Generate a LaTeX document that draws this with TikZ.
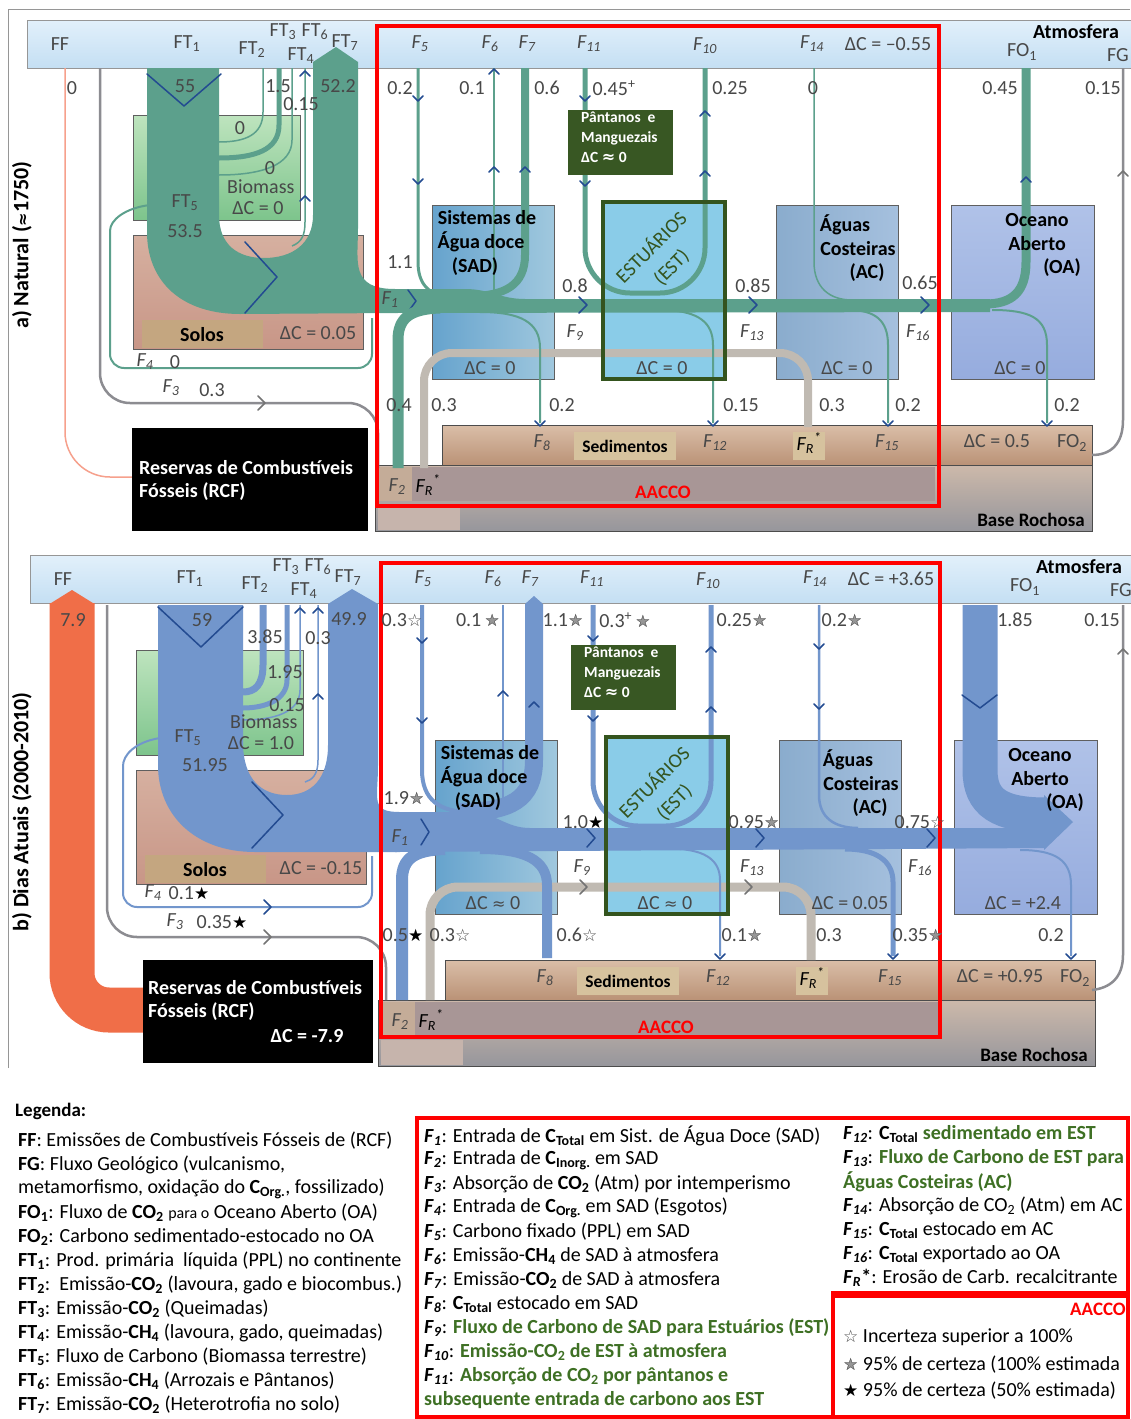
\documentclass[tikz,border=0pt]{standalone}
\usepackage{fontspec}
\setmainfont{Carlito}
\newfontfamily\symfont{DejaVu Sans}
\usetikzlibrary{fit}
\pgfdeclarelayer{bg}
\pgfdeclarelayer{fg}
\pgfsetlayers{bg,main,fg}

\definecolor{txt}{RGB}{72,72,72}
\definecolor{framegray}{RGB}{150,150,150}
\definecolor{boxline}{RGB}{95,95,95}
\definecolor{atmtop}{RGB}{226,240,251}
\definecolor{atmbot}{RGB}{196,223,243}
\definecolor{biotop}{RGB}{190,228,190}
\definecolor{biobot}{RGB}{125,196,140}
\definecolor{soiltop}{RGB}{214,176,160}
\definecolor{soilbot}{RGB}{200,150,135}
\definecolor{solotab}{RGB}{196,166,128}
\definecolor{sadleft}{RGB}{102,163,205}
\definecolor{sadright}{RGB}{160,200,222}
\definecolor{estfill}{RGB}{138,204,232}
\definecolor{estgreen}{RGB}{52,84,30}
\definecolor{acleft}{RGB}{138,172,205}
\definecolor{acright}{RGB}{165,192,222}
\definecolor{oatop}{RGB}{176,194,232}
\definecolor{oabot}{RGB}{150,172,222}
\definecolor{pntgreen}{RGB}{56,87,35}
\definecolor{sedtop}{RGB}{218,190,168}
\definecolor{sedbot}{RGB}{186,146,118}
\definecolor{sedtabc}{RGB}{214,194,158}
\definecolor{rocktop}{RGB}{205,185,170}
\definecolor{rockbot}{RGB}{150,150,156}
\definecolor{aacfill}{RGB}{168,150,150}
\definecolor{f2fill}{RGB}{196,172,152}
\definecolor{rockpink}{RGB}{198,180,172}
\definecolor{flowA}{RGB}{92,160,140}
\definecolor{flowB}{RGB}{114,150,204}
\definecolor{ffor}{RGB}{240,110,72}
\definecolor{ffsalmon}{RGB}{246,160,140}
\definecolor{loopgray}{RGB}{192,186,178}
\definecolor{linegray}{RGB}{140,140,145}
\definecolor{chevblue}{RGB}{35,75,145}
\definecolor{stargray}{RGB}{150,150,150}
\definecolor{aaccored}{RGB}{255,0,0}
\definecolor{leggreen}{RGB}{62,112,36}

\newcommand\apx{{\symfont\fontsize{16}{16}\selectfont ≈}}
\newcommand\starW{{\symfont\fontsize{17}{17}\selectfont\textcolor{txt}{☆}}}
\newcommand\starB{{\symfont\fontsize{17}{17}\selectfont\textcolor{black}{★}}}
\newcommand\starG{{\symfont\fontsize{17}{17}\selectfont\rlap{\textcolor{stargray}{★}}\textcolor{txt}{☆}}}
\newcommand\Fl[1]{\textbf{\textit{F}\textsubscript{\textit{#1}}}}

\tikzset{
  every node/.append style={inner sep=0pt},
  lbl/.style={font=\fontsize{20}{22}\selectfont, text=txt},
  flb/.style={font=\fontsize{20}{22}\selectfont\itshape, text=txt},
  boxt/.style={font=\fontsize{20}{22}\selectfont\bfseries, text=black},
  sml/.style={font=\fontsize{17.5}{20}\selectfont\bfseries, text=black},
  rcft/.style={font=\fontsize{20}{22}\selectfont\bfseries, text=white},
  boxarea/.style={draw=boxline, line width=1pt},
  chev/.style={draw=chevblue, line width=1.5pt, line cap=round, line join=round},
  gchev/.style={draw=black!55, line width=1.5pt, line cap=round, line join=round},
  athin/.style={draw=flowA, line width=2pt},
  bthin/.style={draw=flowB, line width=2pt},
  gline/.style={draw=linegray, line width=2.5pt},
  frloop/.style={draw=loopgray, line width=8pt},
  redframe/.style={draw=aaccored, line width=4pt},
  legt/.style={font=\fontsize{20}{22}\selectfont, text=black, anchor=west},
  esttxt/.style={font=\fontsize{20}{28}\selectfont, text=estgreen, rotate=45, align=center},
}

\newcommand\vcar[2]{\draw[chev] (#1-5,#2-4) -- (#1,#2+1) -- (#1+5,#2-4);}
\newcommand\ucar[2]{\draw[chev] (#1-5,#2+4) -- (#1,#2-1) -- (#1+5,#2+4);}
\newcommand\rchev[3]{\draw[chev] (#1-4,#2-#3) -- (#1+4,#2) -- (#1-4,#2+#3);}

% Compartments, reservoirs and their fixed captions of one panel.
% #1 biomass, #2 soils, #3 SAD, #4 EST, #5 AC, #6 OA, #7 sediments, #8 atmosphere
\newcommand\panelbase[8]{%
\begin{pgfonlayer}{bg}
  \node[boxarea, draw=framegray, top color=atmtop, bottom color=atmbot, fit={(27,20)(1132,68)}] (atm) {};
  \node[boxarea, top color=biotop, bottom color=biobot, fit={(133,115)(300,220)}] (bio) {};
  \node[boxarea, top color=soiltop, bottom color=soilbot, fit={(133,235)(363,349)}] (soil) {};
  \node[fill=solotab, fit={(142,320)(263,348)}] (solotab) {};
  \node[boxarea, left color=sadleft, right color=sadright, fit={(432,205)(554,379)}] (sad) {};
  \node[fill=estfill, fit={(601,200)(727,381)}] (est) {};
  \node[boxarea, left color=acleft, right color=acright, fit={(776,205)(898,379)}] (ac) {};
  \node[boxarea, top color=oatop, bottom color=oabot, fit={(951,205)(1094,379)}] (oa) {};
  \node[boxarea, draw=black!70, top color=sedtop, bottom color=sedbot, fit={(442,425)(1092,465)}] (sed) {};
  \node[boxarea, draw=black!70, top color=rocktop, bottom color=rockbot, fit={(375,465)(1092,531)}] (rock) {};
  \node[fill=aacfill, fit={(378,467)(935,501)}] (aac) {};
  \node[fill=f2fill, fit={(378,467)(412,501)}] (f2zone) {};
  \node[fill=rockpink, fit={(378,505)(460,530)}] (rockpatch) {};
  \node[fill=sedtabc, fit={(574,432)(676,460)}] (sedtab) {};
  \node[fill=sedtabc, fit={(793,432)(825,460)}] (frtab) {};
\end{pgfonlayer}
\begin{pgfonlayer}{fg}
  \node[draw=estgreen, line width=4pt, fit={(603,202)(725,379)}] (estframe) {};
  \node[fill=pntgreen, fit={(568,110)(673,175)}] (pnt) {};
  \node[font=\fontsize{15.5}{20}\selectfont\bfseries, text=white, align=left, anchor=north west] (pnttxt) at (581,112) {Pântanos\ \ e\\Manguezais\\ΔC \apx\ 0};
  % atmosphere bar
  \node[lbl] (tFF) at (60,44) {FF};
  \node[lbl] (tFT1) at (187,44) {FT\textsubscript{1}};
  \node[lbl] (tFT2) at (252,50) {FT\textsubscript{2}};
  \node[lbl] (tFT3) at (283,32) {FT\textsubscript{3}};
  \node[lbl] (tFT6) at (315,32) {FT\textsubscript{6}};
  \node[lbl] (tFT7) at (345,43) {FT\textsubscript{7}};
  \node[lbl] (tFT4) at (301,56) {FT\textsubscript{4}};
  \node[flb] (tF5) at (420,44) {F\textsubscript{5}};
  \node[flb] (tF6) at (490,44) {F\textsubscript{6}};
  \node[flb] (tF7) at (527,44) {F\textsubscript{7}};
  \node[flb] (tF11) at (589,44) {F\textsubscript{11}};
  \node[flb] (tF10) at (705,46) {F\textsubscript{10}};
  \node[flb] (tF14) at (812,44) {F\textsubscript{14}};
  \node[lbl] (tdCatm) at (888,44) {ΔC #8};
  \node[boxt] (tAtm) at (1076,32) {Atmosfera};
  \node[lbl] (tFO1) at (1022,52) {FO\textsubscript{1}};
  \node[lbl] (tFG) at (1118,55) {FG};
  % compartments
  \node[boxt] (tsad1) at (487,218) {Sistemas de};
  \node[boxt] (tsad2) at (481,242) {Água doce};
  \node[boxt] (tsad3) at (475,267) {(SAD)};
  \node[lbl] (tsadc) at (490,368) {ΔC #3};
  \node[esttxt] (test) at (661,257) {ESTUÁRIOS\\(EST)};
  \node[lbl] (testc) at (662,368) {ΔC #4};
  \node[boxt] (tac1) at (845,225) {Águas};
  \node[boxt] (tac2) at (858,249) {Costeiras};
  \node[boxt] (tac3) at (867,273) {(AC)};
  \node[lbl] (tacc) at (847,368) {ΔC #5};
  \node[boxt] (toa1) at (1037,220) {Oceano};
  \node[boxt] (toa2) at (1037,244) {Aberto};
  \node[boxt] (toa3) at (1062,268) {(OA)};
  \node[lbl] (toac) at (1020,368) {ΔC #6};
  \node[lbl, anchor=west] (tbio1) at (227,187) {Biomass};
  \node[lbl] (tbio2) at (258,208) {ΔC #1};
  \node[lbl] (tft5) at (185,203) {FT\textsubscript{5}};
  \node[boxt] (tsolos) at (202,335) {Solos};
  \node[lbl] (tsoilc) at (318,333) {ΔC #2};
  % sediments and bedrock
  \node[sml] (tsed) at (625,446) {Sedimentos};
  \node[flb] (tF8) at (542,443) {F\textsubscript{8}};
  \node[flb] (tF12) at (715,443) {F\textsubscript{12}};
  \node[flb, text=black] (tFR) at (809,443) {F\textsubscript{R}\textsuperscript{*}};
  \node[flb] (tF15) at (887,443) {F\textsubscript{15}};
  \node[lbl] (tsedc) at (997,441) {ΔC #7};
  \node[lbl] (tFO2) at (1072,443) {FO\textsubscript{2}};
  \node[flb] (tF2) at (397,487) {F\textsubscript{2}};
  \node[flb, text=black] (tFRb) at (428,485) {F\textsubscript{R}\textsuperscript{*}};
  \node[font=\fontsize{19}{22}\selectfont\bfseries, text=aaccored] (taacco) at (663,492) {AACCO};
  \node[font=\fontsize{19}{22}\selectfont\bfseries, text=black] (tbase) at (1031,520) {Base Rochosa};
\end{pgfonlayer}}

\begin{document}
\begin{tikzpicture}[x=1pt,y=-1pt]
\useasboundingbox (0,0) rectangle (1130,1419);
\begin{pgfonlayer}{bg}
  \fill[white] (0,0) rectangle (1130,1419);
  \draw[framegray, line width=1pt] (8,1068) -- (8,9) -- (1130,9);
\end{pgfonlayer}

% side titles
\node[font=\fontsize{22}{24}\selectfont\bfseries, rotate=90] (sidea) at (22,245) {a) Natural (\apx1750)};
\node[font=\fontsize{22}{24}\selectfont\bfseries, rotate=90] (sideb) at (22,812) {b) Dias Atuais (2000-2010)};

%================ panel a : natural state ================
\begin{scope}[name prefix=a-]
\panelbase{= 0}{= 0.05}{= 0}{= 0}{= 0}{= 0}{= 0.5}{= –0.55}
\end{scope}

% fossil fuel line and weathering line
\draw[ffsalmon, line width=1.5pt, rounded corners=45pt] (65,68) -- (65,477) -- (132,477);
\draw[gline, rounded corners=30pt] (100,68) -- (100,403) -- (378,403) -- (378,468);
\draw[gchev] (258,396) -- (265,403) -- (258,410);
% sewage input F4
\draw[athin, rounded corners=14pt] (150,205) .. controls (125,208) and (110,220) .. (110,245) -- (110,368) -- (372,368) -- (372,318);
% terrestrial production / respiration loop
\fill[flowA] (147,68) -- (219,68) -- (219,215)
  .. controls (219,245) and (238,258) .. (264,258)
  .. controls (292,258) and (313,244) .. (313,215)
  -- (313,62) -- (336,47) -- (358,62) -- (358,228)
  .. controls (358,262) and (350,289) .. (395,289)
  -- (395,313) -- (240,314)
  .. controls (182,314) and (147,282) .. (147,232) -- cycle;
\draw[chev] (147,74) -- (184,106) -- (221,74);
\draw[chev] (245,242) -- (277,277) -- (245,313);
% biomass arcs
\draw[athin, line width=1.5pt] (263,68) -- (263,112) .. controls (263,135) and (245,142) .. (219,142);
\draw[flowA, line width=5pt] (279,68) -- (279,125) .. controls (279,150) and (255,158) .. (219,158);
\draw[athin, line width=1.5pt] (292,68) -- (292,140) .. controls (292,165) and (262,175) .. (219,175);
\draw[athin, line width=1.5pt] (292,246) .. controls (302,242) and (305,235) .. (305,222) -- (305,68);
\ucar{305}{72} \ucar{305}{197}
% aquatic continuum band
\fill[flowA] (395,289) -- (465,289) .. controls (490,289) and (500,299) .. (525,299) -- (990,299) -- (990,312) -- (395,313) -- cycle;
\draw[flowA, line width=9pt] (1026,68) -- (1026,262) .. controls (1026,292) and (1012,304) .. (985,304);
\ucar{1026}{178}
\rchev{412}{301}{11} \rchev{583}{305}{8} \rchev{753}{305}{8} \rchev{925}{305}{8}
% SAD exchanges
\draw[flowA, line width=3pt] (418,68) -- (418,262) .. controls (418,285) and (430,296) .. (450,296);
\draw[flowA, line width=8pt] (470,296) .. controls (505,296) and (525,285) .. (525,255) -- (525,68);
\draw[athin, line width=1.5pt] (494,68) -- (494,296);
\vcar{418}{100} \vcar{418}{183} \ucar{494}{70} \ucar{494}{168} \ucar{525}{168}
\draw[flowA, line width=11pt] (398,468) -- (398,340) .. controls (398,318) and (410,309) .. (440,308);
\draw[frloop, rounded corners=28pt] (424,468) -- (424,353) -- (808,353) -- (808,427);
\draw[athin] (480,312) .. controls (520,312) and (540,322) .. (540,348) -- (540,423);
% EST exchanges
\draw[flowA, line width=5pt, rounded corners=45pt] (585,68) -- (585,293) -- (705,293) -- (705,68);
\vcar{585}{100} \vcar{585}{185} \ucar{705}{112} \ucar{705}{172}
\draw[athin] (668,310) .. controls (698,312) and (713,322) .. (713,345) -- (713,423);
% AC and OA exchanges
\draw[athin, line width=1.5pt] (814,68) -- (814,262) .. controls (814,288) and (830,300) .. (852,300);
\draw[athin] (848,310) .. controls (875,310) and (888,320) .. (888,345) -- (888,423);
\draw[athin] (992,310) .. controls (1030,310) and (1047,318) .. (1047,345) -- (1047,423);
\vcar{540}{425} \vcar{713}{425} \vcar{888}{425} \vcar{1047}{425}
\draw[gline] (1123,68) -- (1123,420) .. controls (1123,445) and (1110,455) .. (1092,455);
\draw[gchev] (1118,176) -- (1123,171) -- (1128,176);

\begin{pgfonlayer}{fg}
  \node[fill=black, fit={(132,428)(368,531)}] (rcfa) {};
  \node[rcft, anchor=west] (rcfa1) at (139,468) {Reservas de Combustíveis};
  \node[rcft, anchor=west] (rcfa2) at (139,492) {Fósseis (RCF)};
  \draw[redframe] (377,26) rectangle (939,506);
  \node[lbl] (a-n1) at (72,88) {0};
  \node[lbl] (a-n2) at (185,86) {55};
  \node[lbl] (a-n3) at (278,86) {1.5};
  \node[lbl] (a-n4) at (301,104) {0.15};
  \node[lbl] (a-n5) at (338,86) {52.2};
  \node[lbl] (a-n6) at (400,88) {0.2};
  \node[lbl] (a-n7) at (472,88) {0.1};
  \node[lbl] (a-n8) at (547,88) {0.6};
  \node[lbl] (a-n9) at (614,88) {0.45\textsuperscript{+}};
  \node[lbl] (a-n10) at (730,88) {0.25};
  \node[lbl] (a-n11) at (813,88) {0};
  \node[lbl] (a-n12) at (1000,88) {0.45};
  \node[lbl] (a-n13) at (1103,88) {0.15};
  \node[lbl] (a-n14) at (240,128) {0};
  \node[lbl] (a-n15) at (270,168) {0};
  \node[lbl] (a-n16) at (185,231) {53.5};
  \node[lbl] (a-n17) at (400,262) {1.1};
  \node[flb] (a-f1) at (390,300) {F\textsubscript{1}};
  \node[lbl] (a-n18) at (575,286) {0.8};
  \node[flb] (a-f9) at (575,333) {F\textsubscript{9}};
  \node[lbl] (a-n19) at (753,286) {0.85};
  \node[flb] (a-f13) at (752,333) {F\textsubscript{13}};
  \node[lbl] (a-n20) at (920,283) {0.65};
  \node[flb] (a-f16) at (918,333) {F\textsubscript{16}};
  \node[lbl] (a-n21) at (399,405) {0.4};
  \node[lbl] (a-n22) at (444,405) {0.3};
  \node[lbl] (a-n23) at (562,405) {0.2};
  \node[lbl] (a-n24) at (741,405) {0.15};
  \node[lbl] (a-n25) at (832,405) {0.3};
  \node[lbl] (a-n26) at (908,405) {0.2};
  \node[lbl] (a-n27) at (1067,405) {0.2};
  \node[flb] (a-f4) at (145,362) {F\textsubscript{4}};
  \node[lbl] (a-n28) at (175,362) {0};
  \node[flb] (a-f3) at (171,388) {F\textsubscript{3}};
  \node[lbl] (a-n29) at (212,390) {0.3};
\end{pgfonlayer}

%================ panel b : present day ================
\begin{scope}[name prefix=b-, shift={(3,535)}]
\panelbase{= 1.0}{= -0.15}{\apx\ 0}{\apx\ 0}{= 0.05}{= +2.4}{= +0.95}{= +3.65}
\end{scope}

% fossil fuel emissions
\draw[ffor, line width=45pt, rounded corners=37pt] (72,603) -- (72,1010) -- (143,1010);
\fill[ffor] (49.5,604) -- (72,590) -- (94.5,604) -- cycle;
\draw[gline, rounded corners=30pt] (107,605) -- (107,937) -- (386,937) -- (386,1000);
\draw[gchev] (264,930) -- (271,937) -- (264,944);
\draw[bthin, rounded corners=14pt] (160,738) .. controls (135,742) and (123,755) .. (123,780) -- (123,907) -- (372,907) -- (372,856);
\draw[chev] (264,900) -- (271,907) -- (264,914);
% terrestrial loop
\fill[flowB] (158,605) -- (243,605) -- (243,742)
  .. controls (243,780) and (262,795) .. (287,795)
  .. controls (312,795) and (328,778) .. (328,745)
  -- (328,604) -- (352,589) -- (378,604) -- (378,765)
  .. controls (378,800) and (370,812) .. (400,812)
  -- (400,852) -- (255,852)
  .. controls (195,852) and (158,815) .. (158,765) -- cycle;
\draw[chev] (158,607) -- (201,647) -- (243,607);
\draw[chev] (252,782) -- (283,815) -- (252,848);
\draw[flowB, line width=7pt] (263,605) -- (263,665) .. controls (263,685) and (255,692) .. (243,692);
\draw[flowB, line width=5pt] (287,605) -- (287,680) .. controls (287,700) and (265,708) .. (243,708);
\draw[bthin, line width=1.5pt] (300,605) -- (300,690) .. controls (300,712) and (275,720) .. (243,720);
\draw[bthin, line width=1.5pt] (318,605) -- (318,760) .. controls (318,775) and (312,780) .. (305,782);
\ucar{300}{609} \ucar{318}{609} \ucar{318}{695}
% aquatic continuum band
\fill[flowB] (395,812) -- (470,812) .. controls (495,812) and (505,828) .. (530,828) -- (1046,828) -- (1046,848) -- (395,852) -- cycle;
\draw[flowB, line width=35pt] (980,605) -- (980,770) .. controls (980,803) and (1000,815) .. (1046,815);
\fill[flowB] (1044,795) -- (1073,822) -- (1044,850) -- cycle;
\draw[chev] (962,695) -- (980,708) -- (997,695);
\rchev{425}{832}{13} \rchev{591}{838}{9} \rchev{760}{838}{9} \rchev{931}{838}{9}
% SAD exchanges
\draw[flowB, line width=4pt] (422,605) -- (422,770) .. controls (422,800) and (440,812) .. (470,812);
\draw[flowB, line width=18pt] (460,812) .. controls (510,812) and (534,800) .. (534,760) -- (534,604);
\fill[flowB] (525,604) -- (534,596) -- (543,604) -- cycle;
\draw[bthin, line width=1.5pt] (503,605) -- (503,812);
\vcar{422}{642} \vcar{422}{722} \ucar{503}{692} \ucar{534}{703}
\draw[flowB, line width=12pt] (402,1000) -- (402,880) .. controls (402,858) and (415,850) .. (445,849);
\draw[frloop, line width=9pt, rounded corners=28pt] (430,1000) -- (430,887) -- (811,887) -- (811,960);
\draw[gchev] (580,880) -- (587,887) -- (580,894);
\draw[gchev] (745,880) -- (752,887) -- (745,894);
\draw[flowB, line width=10pt] (480,849) .. controls (525,849) and (547,860) .. (547,885) -- (547,958);
% EST exchanges
\draw[flowB, line width=5pt, rounded corners=45pt] (593,605) -- (593,826) -- (711,826) -- (711,605);
\vcar{593}{640} \vcar{593}{720} \ucar{711}{648} \ucar{711}{708}
\draw[bthin] (680,849) .. controls (705,851) and (720,860) .. (720,880) -- (720,956);
% AC and OA exchanges
\draw[bthin, line width=2.5pt] (819,605) -- (819,795) .. controls (819,818) and (835,828) .. (858,828);
\vcar{819}{648} \vcar{819}{708}
\draw[flowB, line width=5pt] (845,849) .. controls (875,849) and (893,860) .. (893,882) -- (893,956);
\draw[bthin] (1020,850) .. controls (1055,850) and (1071,860) .. (1071,885) -- (1071,956);
\vcar{720}{958} \vcar{893}{958} \vcar{1071}{958}
\draw[gline] (1123,605) -- (1123,955) .. controls (1123,978) and (1110,988) .. (1092,990);
\draw[gchev] (1118,654) -- (1123,649) -- (1128,654);

\begin{pgfonlayer}{fg}
  \node[fill=black, fit={(143,960)(373,1063)}] (rcfb) {};
  \node[rcft, anchor=west] (rcfb1) at (148,988) {Reservas de Combustíveis};
  \node[rcft, anchor=west] (rcfb2) at (148,1012) {Fósseis (RCF)};
  \node[rcft] (rcfb3) at (307,1036) {ΔC = -7.9};
  \draw[redframe] (381,563) rectangle (940,1037);
  \node[lbl] (b-n1) at (73,620) {7.9};
  \node[lbl] (b-n2) at (202,620) {59};
  \node[lbl] (b-n3) at (265,637) {3.85};
  \node[lbl] (b-n4) at (318,638) {0.3};
  \node[lbl] (b-n5) at (349,619) {49.9};
  \node[lbl] (b-n6) at (285,672) {1.95};
  \node[lbl] (b-n7) at (287,705) {0.15};
  \node[lbl] (b-n8) at (402,620) {0.3\starW};
  \node[lbl] (b-n9) at (478,620) {0.1\,\starG};
  \node[lbl] (b-n10) at (563,620) {1.1\starG};
  \node[lbl] (b-n11) at (625,620) {0.3\textsuperscript{+}\,\starG};
  \node[lbl] (b-n12) at (742,620) {0.25\starG};
  \node[lbl] (b-n13) at (842,620) {0.2\starG};
  \node[lbl] (b-n14) at (1015,620) {1.85};
  \node[lbl] (b-n15) at (1102,620) {0.15};
  \node[lbl] (b-n16) at (205,765) {51.95};
  \node[lbl] (b-n17) at (404,798) {1.9\starG};
  \node[flb] (b-f1) at (400,838) {F\textsubscript{1}};
  \node[lbl] (b-n18) at (583,822) {1.0\starB};
  \node[flb] (b-f9) at (582,868) {F\textsubscript{9}};
  \node[lbl] (b-n19) at (754,822) {0.95\starG};
  \node[flb] (b-f13) at (752,868) {F\textsubscript{13}};
  \node[lbl] (b-n20) at (920,822) {0.75\starW};
  \node[flb] (b-f16) at (920,868) {F\textsubscript{16}};
  \node[lbl] (b-n21) at (403,935) {0.5\starB};
  \node[lbl] (b-n22) at (450,935) {0.3\starW};
  \node[lbl] (b-n23) at (577,935) {0.6\starW};
  \node[lbl] (b-n24) at (742,935) {0.1\starG};
  \node[lbl] (b-n25) at (829,935) {0.3};
  \node[lbl] (b-n26) at (918,935) {0.35\starG};
  \node[lbl] (b-n27) at (1051,935) {0.2};
  \node[flb] (b-f4) at (153,893) {F\textsubscript{4}};
  \node[lbl] (b-n28) at (189,893) {0.1\starB};
  \node[flb] (b-f3) at (175,922) {F\textsubscript{3}};
  \node[lbl] (b-n29) at (222,922) {0.35\starB};
\end{pgfonlayer}

%================ legend ================
\node[font=\fontsize{19}{22}\selectfont\bfseries, anchor=west] (legtitle) at (15,1111) {Legenda:};
\node[legt] (lFF) at (18,1141) {\textbf{FF}: Emissões de Combustíveis Fósseis de (RCF)};
\node[legt] (lFG) at (18,1165) {\textbf{FG}: Fluxo Geológico (vulcanismo,};
\node[legt] (lFG2) at (18,1189) {metamorfismo, oxidação do \textbf{C\textsubscript{Org.}}, fossilizado)};
\node[legt] (lFO1) at (18,1213) {\textbf{FO\textsubscript{1}}: Fluxo de \textbf{CO\textsubscript{2}} {\fontsize{16}{18}\selectfont para o} Oceano Aberto (OA)};
\node[legt] (lFO2) at (18,1237) {\textbf{FO\textsubscript{2}}: Carbono sedimentado-estocado no OA};
\node[legt] (lFT1) at (18,1261) {\textbf{FT\textsubscript{1}}: Prod. primária\ \ líquida (PPL) no continente};
\node[legt] (lFT2) at (18,1285) {\textbf{FT\textsubscript{2}}:\ \ Emissão-\textbf{CO\textsubscript{2}} (lavoura, gado e biocombus.)};
\node[legt] (lFT3) at (18,1309) {\textbf{FT\textsubscript{3}}: Emissão-\textbf{CO\textsubscript{2}} (Queimadas)};
\node[legt] (lFT4) at (18,1333) {\textbf{FT\textsubscript{4}}: Emissão-\textbf{CH\textsubscript{4}} (lavoura, gado, queimadas)};
\node[legt] (lFT5) at (18,1357) {\textbf{FT\textsubscript{5}}: Fluxo de Carbono (Biomassa terrestre)};
\node[legt] (lFT6) at (18,1381) {\textbf{FT\textsubscript{6}}: Emissão-\textbf{CH\textsubscript{4}} (Arrozais e Pântanos)};
\node[legt] (lFT7) at (18,1405) {\textbf{FT\textsubscript{7}}: Emissão-\textbf{CO\textsubscript{2}} (Heterotrofia no solo)};

\draw[redframe] (417,1118) -- (1128,1118) -- (1128,1293) -- (833,1293) -- (833,1417) -- (417,1417) -- cycle;
\draw[redframe] (833,1296) rectangle (1128,1417);

\node[legt] (lF1) at (424,1136) {\Fl{1}: Entrada de \textbf{C\textsubscript{Total}} em Sist. de Água Doce (SAD)};
\node[legt] (lF2) at (424,1160) {\Fl{2}: Entrada de \textbf{C\textsubscript{Inorg.}} em SAD};
\node[legt] (lF3) at (424,1184) {\Fl{3}: Absorção de \textbf{CO\textsubscript{2}} (Atm) por intemperismo};
\node[legt] (lF4) at (424,1208) {\Fl{4}: Entrada de \textbf{C\textsubscript{Org.}} em SAD (Esgotos)};
\node[legt] (lF5) at (424,1232) {\Fl{5}: Carbono fixado (PPL) em SAD};
\node[legt] (lF6) at (424,1256) {\Fl{6}: Emissão-\textbf{CH\textsubscript{4}} de SAD à atmosfera};
\node[legt] (lF7) at (424,1280) {\Fl{7}: Emissão-\textbf{CO\textsubscript{2}} de SAD à atmosfera};
\node[legt] (lF8) at (424,1304) {\Fl{8}: \textbf{C\textsubscript{Total}} estocado em SAD};
\node[legt] (lF9) at (424,1328) {\Fl{9}: \textcolor{leggreen}{\textbf{Fluxo de Carbono de SAD para Estuários (EST)}}};
\node[legt] (lF10) at (424,1352) {\Fl{10}: \textcolor{leggreen}{\textbf{Emissão-CO\textsubscript{2} de EST à atmosfera}}};
\node[legt] (lF11) at (424,1376) {\Fl{11}: \textcolor{leggreen}{\textbf{Absorção de CO\textsubscript{2} por pântanos e}}};
\node[legt] (lF11b) at (424,1400) {\textcolor{leggreen}{\textbf{subsequente entrada de carbono aos EST}}};

\node[legt] (lF12) at (843,1134) {\Fl{12}: \textbf{C\textsubscript{Total}} \textcolor{leggreen}{\textbf{sedimentado em EST}}};
\node[legt] (lF13) at (843,1158) {\Fl{13}: \textcolor{leggreen}{\textbf{Fluxo de Carbono de EST para}}};
\node[legt] (lF13b) at (843,1182) {\textcolor{leggreen}{\textbf{Águas Costeiras (AC)}}};
\node[legt] (lF14) at (843,1206) {\Fl{14}: Absorção de CO\textsubscript{2} (Atm) em AC};
\node[legt] (lF15) at (843,1230) {\Fl{15}: \textbf{C\textsubscript{Total}} estocado em AC};
\node[legt] (lF16) at (843,1254) {\Fl{16}: \textbf{C\textsubscript{Total}} exportado ao OA};
\node[legt] (lFR) at (843,1278) {\textbf{\textit{F}\textsubscript{\textit{R}}*}: Erosão de Carb. recalcitrante};

\node[font=\fontsize{19}{22}\selectfont\bfseries, text=aaccored, anchor=east] (lAAC) at (1126,1309) {AACCO};
\node[legt] (ls1) at (843,1337) {\starW\ Incerteza superior a 100\%};
\node[legt] (ls2) at (843,1365) {\starG\ 95\% de certeza (100\% estimada};
\node[legt] (ls3) at (843,1391) {\starB\ 95\% de certeza (50\% estimada)};
\end{tikzpicture}
\end{document}
